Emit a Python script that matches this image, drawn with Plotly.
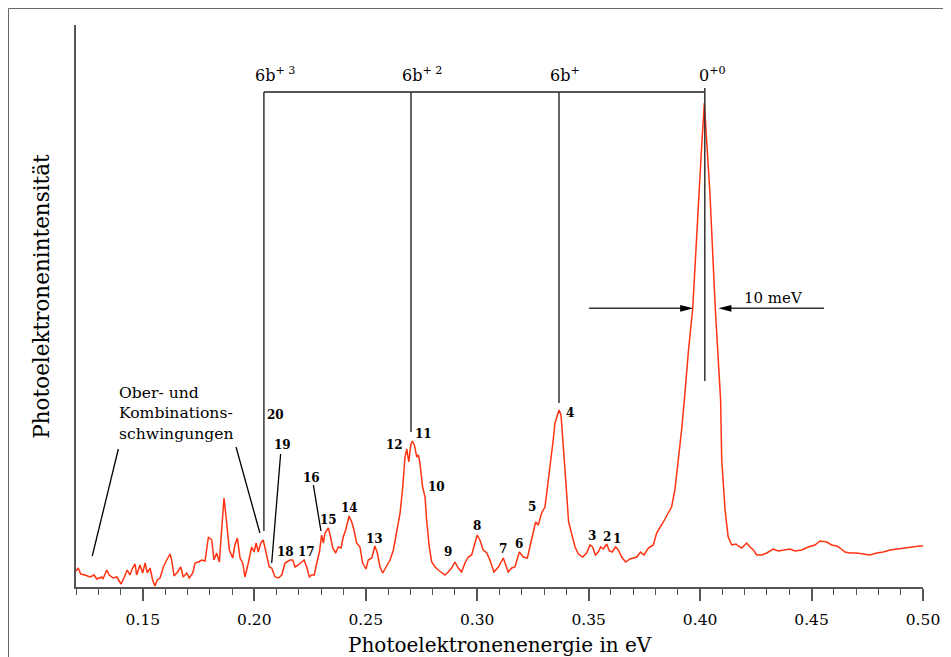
import plotly.graph_objects as go

# Photoelectron spectrum (energy in eV, intensity in arbitrary units)
energy = [
    0.1200, 0.1210, 0.1221, 0.1240, 0.1263, 0.1281, 0.1293, 0.1315, 0.1321, 0.1338,
    0.1349, 0.1367, 0.1383, 0.1402, 0.1415, 0.1430, 0.1442, 0.1454, 0.1465, 0.1472,
    0.1487, 0.1499, 0.1510, 0.1520, 0.1532, 0.1544, 0.1554, 0.1565, 0.1577, 0.1592,
    0.1607, 0.1622, 0.1629, 0.1640, 0.1652, 0.1670, 0.1681, 0.1697, 0.1708, 0.1724,
    0.1734, 0.1749, 0.1764, 0.1779, 0.1794, 0.1809, 0.1819, 0.1831, 0.1843, 0.1854,
    0.1864, 0.1876, 0.1888, 0.1903, 0.1913, 0.1924, 0.1936, 0.1948, 0.1958, 0.1973,
    0.1988, 0.1999, 0.2008, 0.2018, 0.2029, 0.2040, 0.2056, 0.2067, 0.2078, 0.2093,
    0.2108, 0.2123, 0.2138, 0.2160, 0.2172, 0.2183, 0.2197, 0.2213, 0.2223, 0.2235,
    0.2247, 0.2257, 0.2269, 0.2280, 0.2292, 0.2302, 0.2310, 0.2317, 0.2332, 0.2340,
    0.2352, 0.2365, 0.2377, 0.2389, 0.2399, 0.2410, 0.2425, 0.2437, 0.2447, 0.2459,
    0.2474, 0.2486, 0.2501, 0.2511, 0.2527, 0.2541, 0.2552, 0.2564, 0.2576, 0.2591,
    0.2609, 0.2624, 0.2639, 0.2654, 0.2666, 0.2676, 0.2684, 0.2693, 0.2702, 0.2709,
    0.2718, 0.2729, 0.2736, 0.2743, 0.2755, 0.2766, 0.2773, 0.2785, 0.2796, 0.2811,
    0.2825, 0.2841, 0.2855, 0.2870, 0.2885, 0.2900, 0.2915, 0.2930, 0.2945, 0.2960,
    0.2975, 0.2990, 0.3000, 0.3012, 0.3027, 0.3043, 0.3057, 0.3075, 0.3095, 0.3117,
    0.3139, 0.3155, 0.3169, 0.3189, 0.3207, 0.3225, 0.3244, 0.3262, 0.3274, 0.3289,
    0.3304, 0.3314, 0.3327, 0.3341, 0.3349, 0.3357, 0.3367, 0.3376, 0.3386, 0.3398,
    0.3410, 0.3424, 0.3439, 0.3454, 0.3473, 0.3491, 0.3506, 0.3518, 0.3530, 0.3543,
    0.3554, 0.3566, 0.3581, 0.3593, 0.3605, 0.3621, 0.3633, 0.3648, 0.3666, 0.3685,
    0.3703, 0.3716, 0.3733, 0.3748, 0.3768, 0.3790, 0.3805, 0.3820, 0.3835, 0.3857,
    0.3872, 0.3887, 0.3902, 0.3917, 0.3932, 0.3948, 0.3967, 0.3994, 0.4006, 0.4019,
    0.4031, 0.4044, 0.4068, 0.4080, 0.4092, 0.4097, 0.4112, 0.4126, 0.4142, 0.4161,
    0.4171, 0.4187, 0.4197, 0.4209, 0.4224, 0.4239, 0.4254, 0.4276, 0.4299, 0.4328,
    0.4351, 0.4373, 0.4403, 0.4426, 0.4456, 0.4485, 0.4515, 0.4538, 0.4568, 0.4590,
    0.4613, 0.4628, 0.4650, 0.4672, 0.4702, 0.4732, 0.4762, 0.4792, 0.4822, 0.4852,
    0.4882, 0.4912, 0.4942, 0.4964, 0.4986, 0.5000,
]
intensity = [
    19, 22, 16, 15, 13, 15, 11, 13, 11, 20,
    15, 12, 13, 6, 12, 20, 15, 22, 26, 15,
    25, 17, 27, 17, 22, 10, 4, 10, 12, 23,
    30, 36, 30, 14, 17, 23, 13, 17, 12, 17,
    27, 28, 30, 29, 53, 50, 30, 37, 28, 63,
    92, 67, 40, 32, 45, 52, 32, 27, 13, 27,
    43, 38, 47, 38, 47, 50, 35, 23, 22, 13,
    12, 15, 27, 30, 30, 23, 25, 28, 30, 23,
    13, 15, 15, 27, 38, 55, 47, 57, 62, 55,
    42, 37, 43, 42, 53, 60, 74, 68, 60, 47,
    43, 27, 21, 30, 32, 44, 37, 23, 17, 23,
    30, 40, 57, 77, 103, 133, 141, 128, 145, 149,
    145, 133, 135, 127, 103, 93, 70, 43, 28, 23,
    20, 17, 15, 18, 22, 28, 22, 18, 27, 33,
    35, 47, 55, 50, 40, 37, 30, 18, 23, 32,
    18, 22, 23, 38, 33, 32, 50, 68, 65, 77,
    83, 100, 127, 150, 167, 173, 180, 175, 147, 107,
    68, 57, 43, 36, 33, 37, 45, 43, 35, 38,
    43, 41, 46, 39, 38, 43, 40, 33, 28, 31,
    32, 33, 38, 35, 42, 45, 57, 62, 68, 77,
    83, 100, 127, 160, 197, 240, 282, 397, 440, 487,
    440, 397, 282, 236, 190, 130, 80, 53, 45, 46,
    44, 42, 44, 47, 43, 40, 35, 35, 37, 41,
    39, 40, 41, 39, 40, 43, 45, 49, 48, 45,
    44, 42, 38, 37, 37, 36, 35, 37, 38, 40,
    41, 42, 43, 44, 44, 44,
]

# Progression labels (top bracket)
prog_labels = ["6b<sup>+ 3</sup>", "6b<sup>+ 2</sup>", "6b<sup>+</sup>", "0<sup>+0</sup>"]
prog_energy = [0.2043, 0.2703, 0.3367, 0.4021]
prog_line_bottom = [59, 158, 187, 209]
prog_top = 498

# Numbered peak labels
peak_labels = ["20", "19", "18", "17", "16", "15", "14", "13", "12", "11",
               "10", "9", "8", "7", "6", "5", "4", "3", "2", "1"]
peak_label_x = [0.2097, 0.2126, 0.2141, 0.2232, 0.2257, 0.2332, 0.2429, 0.2541, 0.2631, 0.2758,
                0.2818, 0.2868, 0.2998, 0.3117, 0.3187, 0.3244, 0.3416, 0.3514, 0.3581, 0.3629]
peak_label_y = [175, 145, 38, 38, 112, 70, 82, 51, 145, 156,
                103, 38, 64, 41, 46, 83, 177, 54, 53, 51]

# Leader lines (x0, y0, x1, y1)
leaders = [
    (0.1390, 141, 0.1273, 34),
    (0.1918, 143, 0.2025, 57),
    (0.2118, 136, 0.2078, 27),
    (0.2265, 105, 0.2299, 59),
]

# FWHM arrows
fwhm_y = 281.7
fwhm_left_tail, fwhm_left_tip = 0.3502, 0.3969
fwhm_right_tail, fwhm_right_tip = 0.4556, 0.4082

FONT = "DejaVu Serif"
GRAY = "#555555"

fig = go.Figure()
fig.add_trace(go.Scatter(
    x=energy, y=intensity, mode="lines",
    line=dict(color="#ff3311", width=1.5),
    hoverinfo="skip", showlegend=False,
))

shapes = []
# Top bracket
shapes.append(dict(type="line", xref="x", yref="y", x0=prog_energy[0], x1=prog_energy[-1],
                   y0=prog_top, y1=prog_top, line=dict(color=GRAY, width=1.8)))
for i, (xe, yb) in enumerate(zip(prog_energy, prog_line_bottom)):
    top = prog_top + (4 if i == len(prog_energy) - 1 else 0)
    shapes.append(dict(type="line", xref="x", yref="y", x0=xe, x1=xe, y0=top, y1=yb,
                       line=dict(color="#333333", width=1.5)))
for (x0, y0, x1, y1) in leaders:
    shapes.append(dict(type="line", xref="x", yref="y", x0=x0, x1=x1, y0=y0, y1=y1,
                       line=dict(color="black", width=1.3)))
# FWHM arrows
shapes.append(dict(type="line", xref="x", yref="y", x0=fwhm_left_tail, x1=fwhm_left_tip - 0.002,
                   y0=fwhm_y, y1=fwhm_y, line=dict(color="#333333", width=1.5)))
shapes.append(dict(type="line", xref="x", yref="y", x0=fwhm_right_tail, x1=fwhm_right_tip + 0.002,
                   y0=fwhm_y, y1=fwhm_y, line=dict(color="#333333", width=1.5)))
shapes.append(dict(type="path", xref="x", yref="y", xsizemode="pixel", ysizemode="pixel",
                   xanchor=fwhm_left_tip, yanchor=fwhm_y,
                   path="M0,0 L-13,3.4 L-13,-3.4 Z", fillcolor="black", line=dict(width=0)))
shapes.append(dict(type="path", xref="x", yref="y", xsizemode="pixel", ysizemode="pixel",
                   xanchor=fwhm_right_tip, yanchor=fwhm_y,
                   path="M0,0 L13,3.4 L13,-3.4 Z", fillcolor="black", line=dict(width=0)))
# Outer frame (only top and left edges fall inside the picture)
shapes.append(dict(type="rect", xref="paper", yref="paper", x0=-0.0797, x1=1.08,
                   y0=-0.2, y1=1.0294, line=dict(color="#666666", width=1)))

annotations = []
for i, (lab, xe) in enumerate(zip(prog_labels, prog_energy)):
    annotations.append(dict(x=xe, y=prog_top, xref="x", yref="y", text=lab, showarrow=False,
                            xanchor="left", yanchor="bottom",
                            xshift=-8 if i == len(prog_energy) - 1 else -11, yshift=5,
                            font=dict(family=FONT, size=16, color="black")))
for lab, xl, yl in zip(peak_labels, peak_label_x, peak_label_y):
    annotations.append(dict(x=xl, y=yl, xref="x", yref="y", text="<b>" + lab + "</b>",
                            showarrow=False, xanchor="center", yanchor="middle",
                            font=dict(family=FONT, size=12, color="black")))
annotations.append(dict(x=0.1385, y=177, xref="x", yref="y",
                        text="Ober- und<br>Kombinations-<br>schwingungen",
                        showarrow=False, xanchor="left", yanchor="middle", align="left",
                        font=dict(family=FONT, size=15.6, color="black")))
annotations.append(dict(x=0.4330, y=291.7, xref="x", yref="y", text="10 meV",
                        showarrow=False, xanchor="center", yanchor="middle",
                        font=dict(family=FONT, size=15, color="black")))
annotations.append(dict(x=0.5006, y=-0.1032, xref="paper", yref="paper",
                        text="Photoelektronenenergie in eV", showarrow=False,
                        xanchor="center", yanchor="middle",
                        font=dict(family=FONT, size=20, color="black")))
annotations.append(dict(x=-0.0405, y=0.5178, xref="paper", yref="paper",
                        text="Photoelektronenintensität", showarrow=False, textangle=-90,
                        xanchor="center", yanchor="middle",
                        font=dict(family=FONT, size=21.5, color="black")))

fig.update_layout(
    width=943, height=649,
    margin=dict(l=68, r=28, t=17, b=70),
    paper_bgcolor="white", plot_bgcolor="white",
    showlegend=False,
    shapes=shapes, annotations=annotations,
    font=dict(family=FONT, color="black"),
    xaxis=dict(
        range=[0.12, 0.50], showgrid=False, zeroline=False,
        showline=True, linecolor=GRAY, linewidth=1.5,
        tickmode="array", tickvals=[0.15, 0.20, 0.25, 0.30, 0.35, 0.40, 0.45, 0.50],
        ticktext=["0.15", "0.20", "0.25", "0.30", "0.35", "0.40", "0.45", "0.50"],
        ticks="outside", ticklen=12, tickwidth=1.5, tickcolor=GRAY,
        ticklabelstandoff=6,
        minor=dict(tick0=0.12, dtick=0.01, ticks="outside", ticklen=6, tickwidth=1.2,
                   tickcolor=GRAY, showgrid=False),
        tickfont=dict(family=FONT, size=15.5, color="black"),
    ),
    yaxis=dict(
        range=[3, 565], showgrid=False, zeroline=False,
        showline=True, linecolor=GRAY, linewidth=1.5,
        showticklabels=False, ticks="",
    ),
)

fig.write_html("out.html", post_script="document.body.style.overflow='hidden';")
